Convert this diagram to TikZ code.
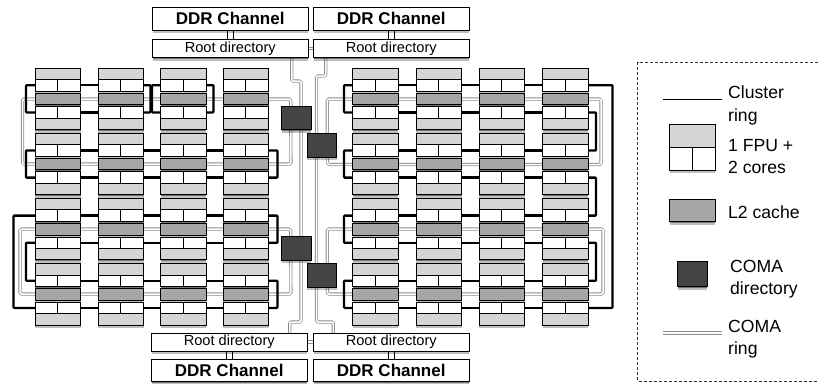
\documentclass[tikz,border=0pt]{standalone}
\usepackage{fontspec}
\setmainfont{Liberation Sans}
\usetikzlibrary{positioning,shadows,backgrounds}
\definecolor{TileLight}{HTML}{D5D5D5}
\definecolor{CacheGray}{HTML}{A6A6A6}
\definecolor{DirDark}{HTML}{444444}
\definecolor{RingGray}{HTML}{8C8C8C}

\begin{document}
\begin{tikzpicture}[
    x=1pt,y=-1pt,
    softshadow/.style={general shadow={shadow xshift=0pt,shadow yshift=-1.2pt,fill=black,opacity=.4},
      general shadow={shadow xshift=0pt,shadow yshift=-3pt,fill=black,opacity=.25}},
    part/.style={draw=black,line width=1pt,inner sep=0pt,outer sep=0pt,softshadow},
    fpubox/.style={part,fill=TileLight,minimum width=45.5pt,minimum height=11.4pt},
    corebox/.style={part,fill=white,minimum width=45.5pt,minimum height=11.4pt,
      path picture={\draw[line width=1pt] (path picture bounding box.north)--(path picture bounding box.south);}},
    cachebox/.style={part,fill=CacheGray,minimum width=45.5pt,minimum height=11.7pt},
    comadir/.style={part,fill=DirDark,minimum width=29.5pt,minimum height=23.5pt,anchor=north west},
    ddrbox/.style={part,fill=white,minimum width=155.5pt,minimum height=22.5pt,
      font=\fontsize{17}{20}\selectfont\bfseries},
    rootbox/.style={part,fill=white,minimum width=155.5pt,minimum height=18pt,
      font=\fontsize{14.6}{17}\selectfont},
    clusterring/.style={draw=black,line width=2.3pt,rounded corners=.8pt},
    comaring/.style={draw=RingGray,line width=.8pt,double=white,double distance=1.5pt,rounded corners=1.5pt},
    ddrlink/.style={draw=black,line width=1pt,double=white,double distance=5pt},
    legendbox/.style={draw=black!80,densely dashed,line width=.7pt},
    legendtext/.style={align=left,anchor=west,inner sep=0pt,font=\fontsize{17.6}{22.5}\selectfont}
  ]
    \useasboundingbox (0,0) rectangle (818,383);

    % tiles, two per cluster row
    \foreach \c/\tx in {1/35,2/98,3/160.5,4/223,5/352.5,6/416,7/479,8/542.5}
      \foreach \k/\ty in {1/68.2,2/133.4,3/198.5,4/263.7} {
        \node[fpubox,anchor=north west] (fa-\c-\k) at (\tx,\ty) {};
        \node[corebox,below=0pt of fa-\c-\k] (up-\c-\k) {};
        \node[cachebox,below=2pt of up-\c-\k] (l2-\c-\k) {};
        \node[corebox,below=2pt of l2-\c-\k] (lo-\c-\k) {};
        \node[fpubox,below=0pt of lo-\c-\k] (fb-\c-\k) {};
      }

    \node[ddrbox,anchor=north west] (ddrT1) at (152.5,7.5) {DDR Channel};
    \node[ddrbox,anchor=north west] (ddrT2) at (313.5,7.5) {DDR Channel};
    \node[rootbox,anchor=north west] (rootT1) at (152.5,39.5) {Root directory};
    \node[rootbox,anchor=north west] (rootT2) at (313.5,39.5) {Root directory};
    \node[rootbox,anchor=north west] (rootB1) at (151.5,333) {Root directory};
    \node[rootbox,anchor=north west] (rootB2) at (313.5,333) {Root directory};
    \node[ddrbox,anchor=north west] (ddrB1) at (151.5,359) {DDR Channel};
    \node[ddrbox,anchor=north west] (ddrB2) at (313.5,359) {DDR Channel};

    \node[comadir] (dir1) at (281.5,106) {};
    \node[comadir] (dir2) at (307,133.5) {};
    \node[comadir] (dir3) at (281.5,236.5) {};
    \node[comadir] (dir4) at (307,263.5) {};

    \begin{scope}[on background layer]
      % coma rings
      \coordinate (ringA1) at (22.5,99);   \coordinate (ringA2) at (291,164);
      \coordinate (ringB1) at (20,229);    \coordinate (ringB2) at (291,294);
      \coordinate (ringC1) at (601,99);    \coordinate (ringC2) at (327.5,164.5);
      \coordinate (ringD1) at (603,229);   \coordinate (ringD2) at (327.5,294);
      \draw[comaring] ([xshift=-5.5pt]dir1.north) |- (ringA1) |- (ringA2) -- ([xshift=-5.5pt]dir1.south);
      \draw[comaring] ([xshift=-5.5pt]dir3.north) |- (ringB1) |- (ringB2) -- ([xshift=-5.5pt]dir3.south);
      \draw[comaring] ([xshift=5.5pt]dir2.north) |- (ringC1) |- (ringC2) -- ([xshift=5.5pt]dir2.south);
      \draw[comaring] ([xshift=5.5pt]dir4.north) |- (ringD1) |- (ringD2) -- ([xshift=5.5pt]dir4.south);
      \coordinate (spineA1) at (301,81);   \coordinate (spineA2) at (301,322);
      \coordinate (spineB1) at (316.5,76); \coordinate (spineB2) at (316.5,322);
      \draw[comaring] ([xshift=61.5pt]rootT1.south) |- (spineA1) -- (spineA2) -| ([xshift=60.5pt]rootB1.south);
      \draw[comaring] ([xshift=-65.5pt]rootT2.south) |- (spineB1) -- (spineB2) -| ([xshift=-58pt]rootB2.south);
      \draw[comaring] (rootT1.east) -- (rootT2.west);
      \draw[comaring] (rootB1.east) -- (rootB2.west);
      \draw[ddrlink] (ddrT1.south) -- (rootT1.north);
      \draw[ddrlink] (ddrT2.south) -- (rootT2.north);
      \draw[ddrlink] (rootB1.south) -- (ddrB1.north);
      \draw[ddrlink] (rootB2.south) -- (ddrB2.north);

      % cluster rings
      \foreach \k/\r in {2/up,2/lo,3/up,3/lo,4/up,4/lo}
        \foreach \c/\n in {1/2,2/3,3/4,5/6,6/7,7/8}
          \draw[clusterring] (\r-\c-\k.east) -- (\r-\n-\k.west);
      \foreach \r in {up,lo} {
        \draw[clusterring] (\r-1-1.east) -- (\r-2-1.west);
        \foreach \c/\n in {5/6,6/7,7/8}
          \draw[clusterring] (\r-\c-1.east) -- (\r-\n-1.west);
      }
      \foreach \a/\b/\d in {up-1-1.west/lo-1-1.west/-9,up-2-1.east/lo-2-1.east/7,
          up-3-1.west/lo-3-1.west/-8.5,up-3-1.east/lo-3-1.east/7.5,
          up-1-2.west/lo-1-2.west/-9,up-4-2.east/lo-4-2.east/9,
          up-1-3.west/lo-1-4.west/-21.5,lo-1-3.west/up-1-4.west/-9,
          up-4-3.east/lo-4-3.east/9,up-4-4.east/lo-4-4.east/9,
          up-5-1.west/lo-5-1.west/-8.5,up-5-2.west/lo-5-2.west/-8.5,
          up-5-3.west/lo-5-3.west/-8.5,up-5-4.west/lo-5-4.west/-8.5,
          up-8-1.east/lo-8-4.east/24.5,lo-8-1.east/up-8-2.east/8,
          lo-8-2.east/up-8-3.east/8,lo-8-3.east/up-8-4.east/8}
        \draw[clusterring] (\a) -- ++(\d,0) |- (\b);
    \end{scope}

    % legend
    \coordinate (legNE) at (818,62.5);  \coordinate (legSW) at (637.5,381);
    \coordinate (legSE) at (818,381);
    \draw[legendbox] (legNE) -| (legSW) -- (legSE);
    \coordinate (legA1) at (663,99.5);  \coordinate (legA2) at (722,99.5);
    \coordinate (legB1) at (663,333);   \coordinate (legB2) at (722,333);
    \draw[draw=black,line width=1.8pt] (legA1) -- (legA2);
    \draw[comaring,double distance=1.5pt] (legB1) -- (legB2);
    \node[fpubox,anchor=north west,minimum height=23pt] (legfpu) at (669.5,124.7) {};
    \node[corebox,below=0pt of legfpu,minimum height=22.5pt] (legcore) {};
    \node[cachebox,anchor=north west,minimum height=22.7pt] (legcache) at (669.5,199) {};
    \node[comadir,minimum height=25.5pt] (legdir) at (677.5,261.3) {};
    \node[legendtext] (legT1) at (728,105.5) {Cluster\\ring};
    \node[legendtext] (legT2) at (728,156.5) {1 FPU +\\2 cores};
    \node[legendtext] (legT3) at (728,212.5) {L2 cache};
    \node[legendtext] (legT4) at (730,279) {COMA\\directory};
    \node[legendtext] (legT5) at (728,339) {COMA\\ring};
  \end{tikzpicture}
\end{document}
